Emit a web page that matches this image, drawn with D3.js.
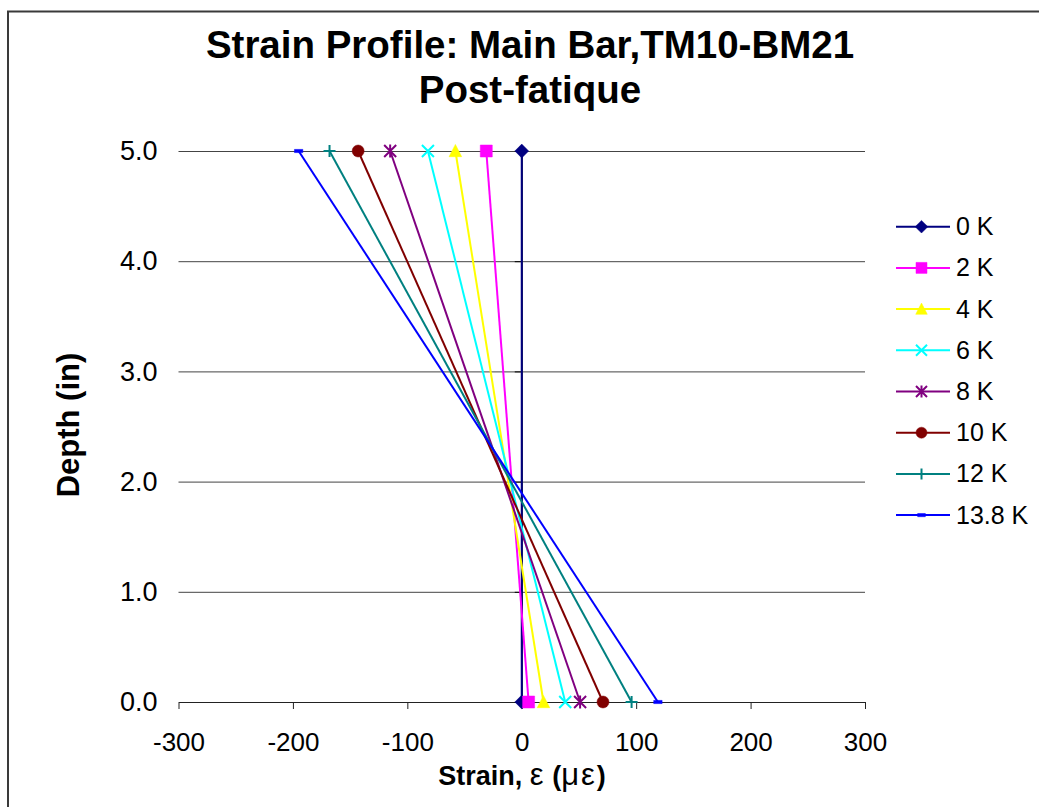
<!DOCTYPE html>
<html><head><meta charset="utf-8">
<script src="https://cdn.jsdelivr.net/npm/d3@7"></script>
<style>
html,body{margin:0;padding:0;background:#fff;}
svg{display:block;font-family:"Liberation Sans",Arial,sans-serif;}
</style></head>
<body>
<svg id="chart" width="1039" height="807"></svg>
<script>
// ---- data ----
const seriesNames = ["0 K","2 K","4 K","6 K","8 K","10 K","12 K","13.8 K"];
const depths = [0.0, 5.0];
const strainAtDepth0 = [0, 6, 19, 38, 51, 71, 96, 119];
const strainAtDepth5 = [0, -31, -58, -82, -115, -143, -168, -195];
const seriesColors = ["#000080","#FF00FF","#FFFF00","#00FFFF","#800080","#800000","#008080","#0000FF"];
const seriesMarkers = ["diamond","square","triangle","x","star","circle","plus","dash"];
const xTicks = [-300,-200,-100,0,100,200,300];
const yTicks = [0,1,2,3,4,5];
const titleLines = ["Strain Profile: Main Bar,TM10-BM21","Post-fatique"];

const svg = d3.select("#chart");
svg.append("rect").attr("width",1039).attr("height",807).attr("fill","#fff");
// outer frame
svg.append("rect").attr("x",8).attr("y",11.5).attr("width",1200).attr("height",1000)
  .attr("fill","none").attr("stroke","#3a3a3a").attr("stroke-width",2);

const x = d3.scaleLinear().domain([-300,300]).range([178.5,865]);
const y = d3.scaleLinear().domain([0,5]).range([702,151]);

// gridlines
svg.append("g").attr("transform",`translate(${x(-300)},0)`)
  .call(d3.axisLeft(y).tickValues(yTicks.filter(d=>d>0)).tickSize(-(x(300)-x(-300))).tickFormat(""))
  .call(g=>g.select(".domain").remove())
  .call(g=>g.selectAll("line").attr("stroke","#444").attr("stroke-width",1));

// x axis
const xa = svg.append("g").attr("transform",`translate(0,${y(0)})`)
  .call(d3.axisBottom(x).tickValues(xTicks).tickSize(7).tickPadding(24).tickSizeOuter(0).tickFormat(d=>String(d)));
xa.select(".domain").attr("stroke","#222");
xa.selectAll("line").attr("stroke","#222");
xa.selectAll("text").attr("font-size",26).attr("fill","#000").attr("font-family","Liberation Sans, Arial, sans-serif");

// y axis line at x=0 with ticks
const ya = svg.append("g").attr("transform",`translate(${x(0)},0)`)
  .call(d3.axisLeft(y).tickValues(yTicks).tickSize(7).tickSizeOuter(0).tickFormat(""));
ya.select(".domain").attr("stroke","#000");
ya.selectAll("line").attr("stroke","#000");

// y labels at the plot's left edge
const yl = svg.append("g").attr("transform",`translate(${x(-300)},0)`)
  .call(d3.axisLeft(y).tickValues(yTicks).tickSize(0).tickPadding(21).tickFormat(d3.format(".1f")));
yl.select(".domain").remove();
yl.selectAll("text").attr("font-size",27).attr("fill","#000").attr("font-family","Liberation Sans, Arial, sans-serif");

// marker shapes
function markerPath(type, s){
  const h = s/2;
  switch(type){
    case "diamond": return `M0,${-h*1.15}L${h*1.15},0L0,${h*1.15}L${-h*1.15},0Z`;
    case "square": return `M${-h},${-h}H${h}V${h}H${-h}Z`;
    case "triangle": return `M0,${-h*1.1}L${h*1.05},${h*0.95}L${-h*1.05},${h*0.95}Z`;
    case "x": return `M${-h},${-h}L${h},${h}M${h},${-h}L${-h},${h}`;
    case "star": return `M${-h},${-h}L${h},${h}M${h},${-h}L${-h},${h}M0,${-h*1.1}V${h*1.1}`;
    case "circle": return d3.symbol(d3.symbolCircle, Math.PI*h*h)();
    case "plus": return `M${-h},0H${h}M0,${-h}V${h}`;
    case "dash": return `M${-h*0.7},-1.6H${h*0.7}V1.6H${-h*0.7}Z`;
  }
}
const filled = {diamond:true,square:true,triangle:true,circle:true,dash:true};

const line = d3.line().x(d=>x(d[0])).y(d=>y(d[1]));
seriesNames.forEach((name,i)=>{
  const pts = [[strainAtDepth0[i],depths[0]],[strainAtDepth5[i],depths[1]]];
  const g = svg.append("g");
  g.append("path").attr("d",line(pts)).attr("fill","none")
    .attr("stroke",seriesColors[i]).attr("stroke-width",2);
  pts.forEach(p=>{
    const m = seriesMarkers[i];
    g.append("path").attr("d",markerPath(m,12))
      .attr("transform",`translate(${x(p[0])},${y(p[1])})`)
      .attr("fill",filled[m]?seriesColors[i]:"none")
      .attr("stroke",seriesColors[i]).attr("stroke-width",filled[m]?0.5:2);
  });
});

// legend
const leg = svg.append("g");
seriesNames.forEach((name,i)=>{
  const ly = 226.7 + 41.2*i;
  const m = seriesMarkers[i];
  leg.append("line").attr("x1",896).attr("x2",950).attr("y1",ly).attr("y2",ly)
    .attr("stroke",seriesColors[i]).attr("stroke-width",2);
  leg.append("path").attr("d",markerPath(m,11)).attr("transform",`translate(921.5,${ly})`)
    .attr("fill",filled[m]?seriesColors[i]:"none")
    .attr("stroke",seriesColors[i]).attr("stroke-width",filled[m]?0.5:2);
  leg.append("text").attr("x",956).attr("y",ly+8.5).attr("font-size",25).attr("fill","#000").text(name);
});

// title
titleLines.forEach((t,i)=>{
  svg.append("text").attr("x",530).attr("y",58+45*i).attr("text-anchor","middle")
    .attr("font-size",38.5).attr("font-weight","bold").attr("fill","#000").text(t);
});

// axis titles
const xt = svg.append("text").attr("x",522).attr("y",785).attr("text-anchor","middle")
  .attr("font-size",27).attr("font-weight","bold").attr("fill","#000");
xt.append("tspan").text("Strain, ");
xt.append("tspan").attr("font-weight","normal").attr("font-size",31).text("ε ");
xt.append("tspan").text("(");
xt.append("tspan").attr("font-weight","normal").attr("font-size",31).attr("letter-spacing",2).text("με");
xt.append("tspan").text(")");

svg.append("text").attr("transform","translate(79,425) rotate(-90)").attr("text-anchor","middle")
  .attr("font-size",31).attr("font-weight","bold").attr("fill","#000").text("Depth (in)");
</script>
</body></html>
